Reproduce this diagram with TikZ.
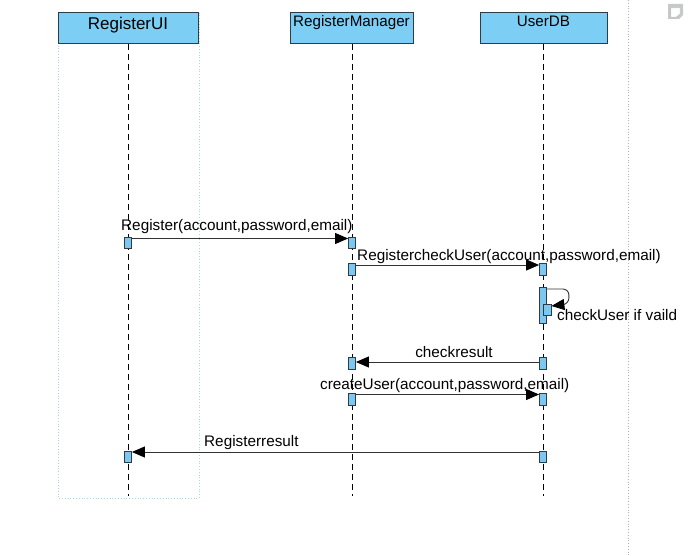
\documentclass[tikz,border=0pt]{standalone}
\usepackage{fontspec}
\setmainfont{Liberation Sans}
\usetikzlibrary{arrows.meta}
\definecolor{hdr}{RGB}{125,206,244}
\definecolor{actf}{RGB}{125,200,240}
\definecolor{bord}{RGB}{45,60,70}
\definecolor{frm}{RGB}{175,210,228}
\definecolor{msgc}{RGB}{50,50,50}
\definecolor{icog}{RGB}{200,200,200}
\tikzset{
  head/.style={draw=bord,fill=hdr,line width=0.9pt,minimum height=31pt,inner sep=0pt,anchor=north},
  htext/.style={font=\fontsize{15.2}{15.2}\selectfont,anchor=base,inner sep=0pt},
  act/.style={draw=bord,fill=actf,line width=0.8pt,minimum width=7pt,inner sep=0pt,anchor=north},
  life/.style={draw=black,line width=0.8pt,dash pattern=on 6pt off 4pt},
  msg/.style={draw=msgc,line width=0.9pt,-{Triangle[length=13pt,width=11pt,color=black,fill=black]}},
  lbl/.style={font=\fontsize{15.3}{15.3}\selectfont,inner sep=0pt,anchor=base},
}
\begin{document}
\begin{tikzpicture}[x=1pt,y=-1pt]
\useasboundingbox (0,0) rectangle (693,556);
% frame and separator
\draw[frm,dotted,line width=0.8pt] (58,12) rectangle (199,498);
\draw[gray!60,dotted,line width=0.8pt] (628,0) -- (628,556);
% icon
\fill[icog] (668,4) -- (683,4) -- (683,15) -- (679,19) -- (668,19) -- cycle;
\fill[white] (671,8) -- (680,8) -- (680,14) -- (676,17) -- (671,17) -- cycle;
\draw[green!50!gray,densely dotted,line width=0.4pt] (671,8) -- (680,8) -- (680,14) -- (676,17) -- (671,17) -- cycle;
% heads
\node[head,minimum width=140pt] (ui) at (128,12) {};
\node[head,minimum width=123pt] (rm) at (351.5,12) {};
\node[head,minimum width=127pt] (db) at (543.5,12) {};
\node[htext,font=\fontsize{17}{17}\selectfont] (uit) at (128,30) {RegisterUI};
\node[htext] (rmt) at (351.5,27) {RegisterManager};
\node[htext] (dbt) at (543.5,27) {UserDB};
% lifeline ends
\coordinate (uiend) at (128,496);
\coordinate (rmend) at (352,496);
\coordinate (dbend) at (543,496);
\draw[life] (ui.south -| uiend) -- (uiend);
\draw[life] (rm.south -| rmend) -- (rmend);
\draw[life] (db.south -| dbend) -- (dbend);
% activations
\node[act,minimum height=11pt] (a1) at (128,237) {};
\node[act,minimum height=11pt] (b1) at (352,237) {};
\node[act,minimum height=12pt] (b2) at (352,263) {};
\node[act,minimum height=12pt] (c2) at (543,263) {};
\node[act,minimum height=36pt] (c3) at (543,287) {};
\node[act,minimum height=11pt,minimum width=8pt] (c4) at (547,304) {};
\node[act,minimum height=12pt] (c5) at (543,357) {};
\node[act,minimum height=12pt] (b5) at (352,357) {};
\node[act,minimum height=12pt] (b6) at (352,393) {};
\node[act,minimum height=12pt] (c6) at (543,393) {};
\node[act,minimum height=11pt] (c7) at (543,451) {};
\node[act,minimum height=11pt] (a7) at (128,451) {};
% messages
\draw[msg] ([yshift=-1.5pt]a1.north east) -- ([yshift=-1.5pt]b1.north west);
\node[lbl,anchor=base west] (l1) at (121,230) {Register(account,password,email)};
\draw[msg] ([yshift=-2pt]b2.north east) -- ([yshift=-2pt]c2.north west);
\node[lbl,anchor=base west] (l2) at (357,260) {RegistercheckUser(account,password,email)};
\draw[msg,rounded corners=6pt] ([yshift=-2pt]c3.north east) -- ++(22,0) -- ++(0,15) -- ([yshift=-2pt]c4.north east);
\node[lbl,anchor=base west] (l3) at (557,320) {checkUser if vaild};
\draw[msg] ([yshift=-5pt]c5.north west) -- ([yshift=-5pt]b5.north east);
\node[lbl] (l4) at (454,357) {checkresult};
\draw[msg] ([yshift=-1.5pt]b6.north east) -- ([yshift=-1.5pt]c6.north west);
\node[lbl,anchor=base west] (l5) at (320,389) {createUser(account,password,email)};
\draw[msg] ([yshift=-1pt]c7.north west) -- ([yshift=-1pt]a7.north east);
\node[lbl,anchor=base west] (l6) at (204,446) {Registerresult};
\end{tikzpicture}
\end{document}
